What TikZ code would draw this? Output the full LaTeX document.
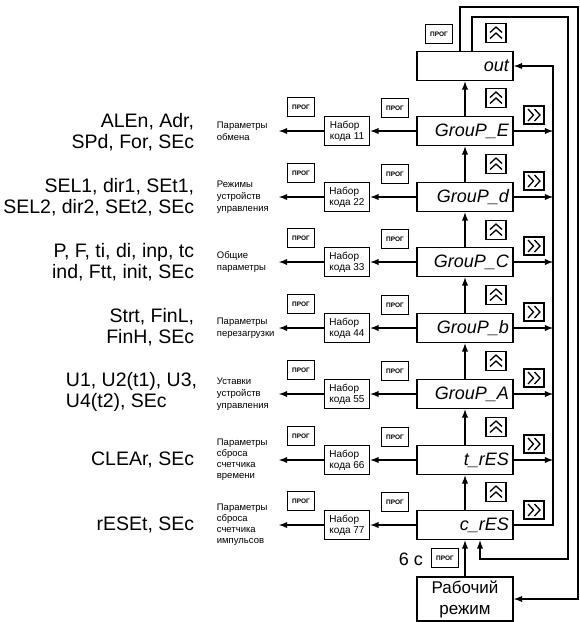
\documentclass[tikz,border=0pt]{standalone}
\usepackage{fontspec}
\setmainfont{Liberation Sans}
\usetikzlibrary{arrows}

\begin{document}
\begin{tikzpicture}
	[x=1pt,y=-1pt,>=latex,line width=1.8pt,
	disp/.style={draw,minimum height=29pt,text width=88pt,inner sep=4pt,align=right,font=\fontsize{18}{18}\selectfont\itshape},
	code/.style={draw,minimum width=45pt,minimum height=29pt,inner sep=1pt,align=left,font=\fontsize{10}{11}\selectfont},
	prog/.style={draw,minimum width=27pt,minimum height=19pt,inner sep=0pt,font=\fontsize{6.5}{7}\selectfont\bfseries},
	upkey/.style={draw,minimum width=20pt,minimum height=19pt,inner sep=0pt,
		path picture={\draw[line width=1.3pt] ([shift={(-6pt,0.5pt)}]path picture bounding box.center) -- ++(6pt,5.5pt) -- ++(6pt,-5.5pt)
			([shift={(-6pt,-5.5pt)}]path picture bounding box.center) -- ++(6pt,5.5pt) -- ++(6pt,-5.5pt);}},
	fwdkey/.style={draw,minimum width=20pt,minimum height=18pt,inner sep=0pt,
		path picture={\draw[line width=1.3pt] ([shift={(-6pt,6pt)}]path picture bounding box.center) -- ++(5.5pt,-6pt) -- ++(-5.5pt,-6pt)
			([shift={(0.5pt,6pt)}]path picture bounding box.center) -- ++(5.5pt,-6pt) -- ++(-5.5pt,-6pt);}},
	param/.style={anchor=west,align=left,inner sep=0pt,font=\fontsize{9.5}{12}\selectfont},
	list/.style={anchor=east,align=right,inner sep=0pt,font=\fontsize{19.5}{20.5}\selectfont}]
	\useasboundingbox (0,0) rectangle (580,622);

	% display states
	\node[disp] (out) at (465,66) {out};
	\node[disp] (grE) at (465,131) {GrouP\_E};
	\node[disp] (grD) at (465,197) {GrouP\_d};
	\node[disp] (grC) at (465,262) {GrouP\_C};
	\node[disp] (grB) at (465,328) {GrouP\_b};
	\node[disp] (grA) at (465,394) {GrouP\_A};
	\node[disp] (tRes) at (465,460) {t\_rES};
	\node[disp] (cRes) at (465,525) {c\_rES};
	\node[draw,minimum width=96pt,minimum height=42pt,align=center,font=\fontsize{17}{21}\selectfont] (work) at (465,599) {Рабочий\\режим};

	% code entry
	\node[code] (codeE) at (347,131) {Набор\\кода 11};
	\node[code] (codeD) at (347,197) {Набор\\кода 22};
	\node[code] (codeC) at (347,262) {Набор\\кода 33};
	\node[code] (codeB) at (347,328) {Набор\\кода 44};
	\node[code] (codeA) at (347,394) {Набор\\кода 55};
	\node[code] (codeT) at (347,460) {Набор\\кода 66};
	\node[code] (codeR) at (347,525) {Набор\\кода 77};

	\node[param] (parE) at (216,131) {Параметры\\обмена};
	\node[param] (parD) at (216,197) {Режимы\\устройств\\управления};
	\node[param] (parC) at (216,262) {Общие\\параметры};
	\node[param] (parB) at (216,328) {Параметры\\перезагрузки};
	\node[param] (parA) at (216,394) {Уставки\\устройств\\управления};
	\node[param,font=\fontsize{9.5}{11}\selectfont] (parT) at (216,460) {Параметры\\сброса\\счетчика\\времени};
	\node[param,font=\fontsize{9.5}{11}\selectfont] (parR) at (216,525) {Параметры\\сброса\\счетчика\\импульсов};

	\node[list] (lstE) at (195,132) {ALEn, Adr,\\SPd, For, SEc};
	\node[list] (lstD) at (195,197) {SEL1, dir1, SEt1,\\SEL2, dir2, SEt2, SEc};
	\node[list] (lstC) at (195,262) {P, F, ti, di, inp, tc\\ind, Ftt, init, SEc};
	\node[list] (lstB) at (195,327) {Strt, FinL,\\FinH, SEc};
	\node[list,align=left] (lstA) at (198,392) {U1, U2(t1), U3,\\U4(t2), SEc};
	\node[list] (lstT) at (195,460) {CLEAr, SEc};
	\node[list] (lstR) at (195,525) {rESEt, SEc};

	% keys
	\node[prog] (pg0) at (439,34) {ПРОГ};
	\node[prog] (pgE1) at (301,107) {ПРОГ};
	\node[prog] (pgE2) at (395,108) {ПРОГ};
	\node[prog] (pgD1) at (301,173) {ПРОГ};
	\node[prog] (pgD2) at (395,174) {ПРОГ};
	\node[prog] (pgC1) at (301,238) {ПРОГ};
	\node[prog] (pgC2) at (395,239) {ПРОГ};
	\node[prog] (pgB1) at (301,304) {ПРОГ};
	\node[prog] (pgB2) at (395,305) {ПРОГ};
	\node[prog] (pgA1) at (301,370) {ПРОГ};
	\node[prog] (pgA2) at (395,371) {ПРОГ};
	\node[prog] (pgT1) at (301,436) {ПРОГ};
	\node[prog] (pgT2) at (395,437) {ПРОГ};
	\node[prog] (pgR1) at (301,501) {ПРОГ};
	\node[prog] (pgR2) at (395,502) {ПРОГ};
	\node[prog] (pgW) at (445,558) {ПРОГ};
	\node[font=\fontsize{18}{18}\selectfont] (six) at (411,559) {6 с};

	\node[upkey] (up0) at (496,33) {};
	\node[upkey] (up1) at (496,98) {};
	\node[upkey] (up2) at (496,164) {};
	\node[upkey] (up3) at (496,230) {};
	\node[upkey] (up4) at (496,295) {};
	\node[upkey] (up5) at (496,361) {};
	\node[upkey] (up6) at (496,427) {};
	\node[upkey] (up7) at (496,492) {};

	\node[fwdkey] (fwE) at (534,115) {};
	\node[fwdkey] (fwD) at (534,181) {};
	\node[fwdkey] (fwC) at (534,246) {};
	\node[fwdkey] (fwB) at (534,312) {};
	\node[fwdkey] (fwA) at (534,378) {};
	\node[fwdkey] (fwT) at (534,444) {};
	\node[fwdkey] (fwR) at (534,510) {};

	\coordinate (endE) at (279,131);
	\coordinate (endD) at (279,197);
	\coordinate (endC) at (279,262);
	\coordinate (endB) at (279,328);
	\coordinate (endA) at (279,394);
	\coordinate (endT) at (279,460);
	\coordinate (endR) at (279,525);
	\coordinate (bus) at (553,525);
	\coordinate (ra) at (578,7);
	\coordinate (rb) at (568,17);
	\coordinate (rc) at (480,559);

	% up
	\draw[->] (grE.north) -- (out.south);
	\draw[->] (grD.north) -- (grE.south);
	\draw[->] (grC.north) -- (grD.south);
	\draw[->] (grB.north) -- (grC.south);
	\draw[->] (grA.north) -- (grB.south);
	\draw[->] (tRes.north) -- (grA.south);
	\draw[->] (cRes.north) -- (tRes.south);
	\draw[->] (work.north) -- (cRes.south);

	% forward to out
	\draw[->] (cRes.east) -- (bus) |- (out.east);
	\draw[->] (grE.east) -- (grE.east -| bus);
	\draw[->] (grD.east) -- (grD.east -| bus);
	\draw[->] (grC.east) -- (grC.east -| bus);
	\draw[->] (grB.east) -- (grB.east -| bus);
	\draw[->] (grA.east) -- (grA.east -| bus);
	\draw[->] (tRes.east) -- (tRes.east -| bus);

	% into groups
	\draw[->] (grE.west) -- (codeE.east);
	\draw[->] (grD.west) -- (codeD.east);
	\draw[->] (grC.west) -- (codeC.east);
	\draw[->] (grB.west) -- (codeB.east);
	\draw[->] (grA.west) -- (codeA.east);
	\draw[->] (tRes.west) -- (codeT.east);
	\draw[->] (cRes.west) -- (codeR.east);
	\draw[->] (codeE.west) -- (endE);
	\draw[->] (codeD.west) -- (endD);
	\draw[->] (codeC.west) -- (endC);
	\draw[->] (codeB.west) -- (endB);
	\draw[->] (codeA.west) -- (endA);
	\draw[->] (codeT.west) -- (endT);
	\draw[->] (codeR.west) -- (endR);

	% back loops
	\draw[->] ([xshift=-5pt]out.north) |- (ra) |- (work.east);
	\draw[->] ([xshift=7pt]out.north) |- (rb) |- (rc) -- (rc |- cRes.south);
\end{tikzpicture}
\end{document}
